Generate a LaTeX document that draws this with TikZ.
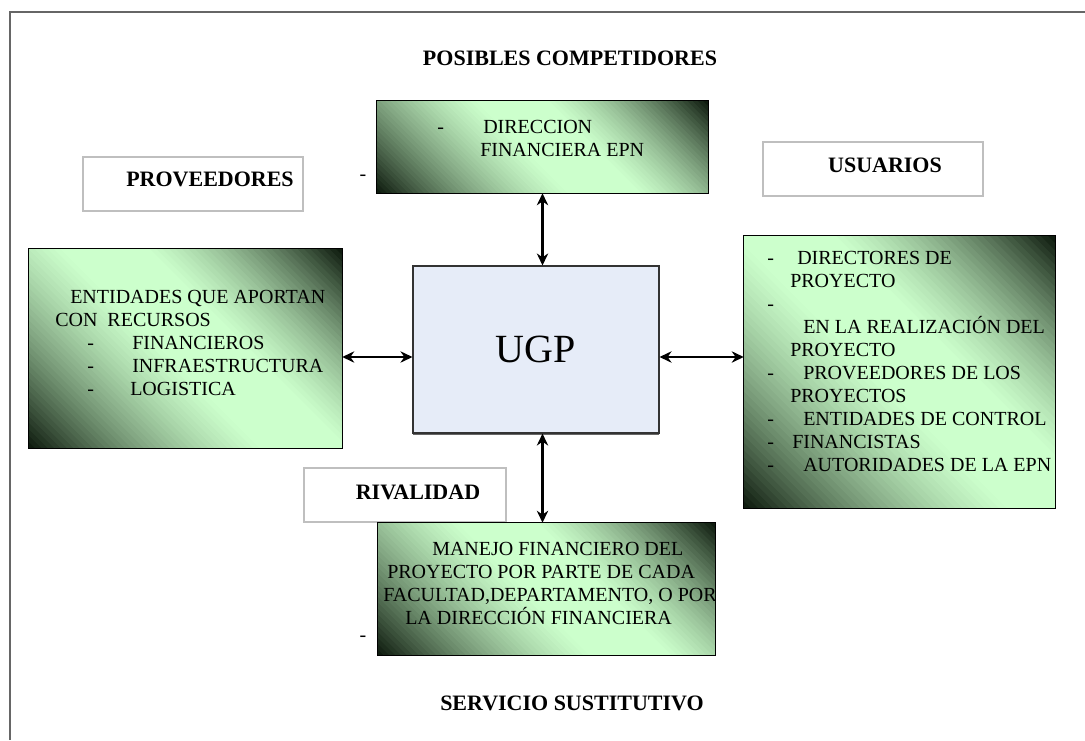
\documentclass[tikz,border=0pt]{standalone}
\usepackage{fontspec}
\setmainfont{Liberation Serif}
\usetikzlibrary{arrows.meta,shadows}
\definecolor{gdark}{RGB}{10,22,10}
\definecolor{glight}{RGB}{204,255,204}
\definecolor{ugpfill}{RGB}{230,236,248}
% degradado diagonal: oscuro en las esquinas inferior izquierda y superior derecha
\newcommand{\greenshade}[1]{%
    \begin{scope}
        \clip (#1.south west) rectangle (#1.north east);
        \path (#1.south west); \pgfgetlastxy{\bxA}{\byA}
        \path (#1.north east); \pgfgetlastxy{\bxB}{\byB}
        \pgfmathsetmacro{\bW}{\bxB-\bxA}
        \pgfmathsetmacro{\bH}{\byB-\byA}
        \pgfmathsetmacro{\bS}{(\bW+\bH)/80}
        \foreach \k in {0,...,79}{
            \pgfmathsetmacro{\shA}{\bS*\k}
            \pgfmathsetmacro{\shB}{\bS*(\k+1.3)}
            \pgfmathsetmacro{\shT}{(\k+0.5)/80}
            \pgfmathsetmacro{\shE}{max(0,1-\shT/0.45)}
            \pgfmathsetmacro{\shF}{max(0,1-(1-\shT)/0.38)}
            \pgfmathsetmacro{\shD}{min(1,\shE*(0.55+0.45*\shE)+\shF*(0.55+0.45*\shF))}
            \pgfmathsetmacro{\shP}{100*(1-\shD)}
            \fill[glight!\shP!gdark] (\bxA+\shA pt,\byA) -- (\bxA+\shB pt,\byA)
                -- (\bxA+\shB pt-\bH pt,\byB) -- (\bxA+\shA pt-\bH pt,\byB) -- cycle;
        }
    \end{scope}
    \draw[line width=0.8pt] (#1.south west) rectangle (#1.north east);}
\begin{document}
\begin{tikzpicture}[x=0.75pt,y=-0.75pt,
    greenbox/.style={inner sep=0pt},
    boxtext/.style={anchor=north west, inner sep=0pt, align=left, font=\fontsize{15}{17.25}\selectfont},
    lblbox/.style={draw=black!25, line width=1.1pt, fill=white, minimum width=165pt, minimum height=40.5pt, inner sep=0pt},
    lbltext/.style={inner sep=0pt, font=\fontsize{16.5}{19}\selectfont\bfseries},
    arr/.style={{Stealth[length=9pt,width=8.5pt]}-{Stealth[length=9pt,width=8.5pt]}, line width=2pt}]
    \useasboundingbox (0,0) rectangle (1085,740);
    \draw[black!60, line width=0.8pt] (10,740) -- (10,12) -- (1085,12);
    % Titulos
    \node[lbltext] (poscomp) at (570,58) {POSIBLES COMPETIDORES};
    \node[lbltext] (servsust) at (572,703) {SERVICIO SUSTITUTIVO};
    % Etiquetas
    \node[lblbox] (prov) at (193,184) {};
    \node[lbltext] (provt) at (210,179) {PROVEEDORES};
    \node[lblbox] (usu) at (873,169) {};
    \node[lbltext] (usut) at (885,165) {USUARIOS};
    \node[lblbox, minimum width=151.5pt] (riv) at (405,495) {};
    \node[lbltext] (rivt) at (418,492) {RIVALIDAD};
    % Cajas verdes
    \node[greenbox, minimum width=248.25pt, minimum height=69pt] (dir) at (542.5,147) {};
    \greenshade{dir}
    \node[boxtext] (dirt) at (437,119.5) {\makebox[34.5pt][l]{-}DIRECCION\\
        \hspace*{32.25pt}FINANCIERA EPN};
    \node[greenbox, minimum width=234.75pt, minimum height=149.25pt] (prv) at (185.5,348.5) {};
    \greenshade{prv}
    \node[boxtext] (prvt) at (55,289.5) {\hspace*{11.25pt}ENTIDADES QUE APORTAN\\
        CON\ \ RECURSOS\\
        \hspace*{24pt}\makebox[33.75pt][l]{-}FINANCIEROS\\
        \hspace*{24pt}\makebox[33.75pt][l]{-}INFRAESTRUCTURA\\
        \hspace*{24pt}\makebox[32.25pt][l]{-}LOGISTICA};
    \node[greenbox, minimum width=233.25pt, minimum height=204pt] (rgt) at (899.5,372) {};
    \greenshade{rgt}
    \node[boxtext] (rgtt) at (767,250.5) {\makebox[22.5pt][l]{-}DIRECTORES DE\\
        \hspace*{17.25pt}PROYECTO\\
        -\\
        \hspace*{27pt}EN LA REALIZACIÓN DEL\\
        \hspace*{17.25pt}PROYECTO\\
        \makebox[27pt][l]{-}PROVEEDORES DE LOS\\
        \hspace*{17.25pt}PROYECTOS\\
        \makebox[27pt][l]{-}ENTIDADES DE CONTROL\\
        \makebox[18.75pt][l]{-}FINANCISTAS\\
        \makebox[27pt][l]{-}AUTORIDADES DE LA EPN};
    \node[greenbox, minimum width=252.75pt, minimum height=99pt] (mfin) at (546.5,589) {};
    \greenshade{mfin}
    \begin{scope}
        \clip (mfin.south west) rectangle (mfin.north east);
        \node[boxtext] (mfint) at (383,541.5) {\hspace*{36.75pt}MANEJO FINANCIERO DEL\\
            \hspace*{3pt}PROYECTO POR PARTE DE CADA\\
            FACULTAD,DEPARTAMENTO, O POR\\
            \hspace*{16.5pt}LA DIRECCIÓN FINANCIERA};
    \end{scope}
    % Guiones sueltos
    \node[boxtext, anchor=center] (dsha) at (363,178) {-};
    \node[boxtext, anchor=center] (dshb) at (363,639) {-};
    % Centro
    \node[draw=black!80, line width=0.8pt, fill=ugpfill,
        general shadow={fill=black!60, shadow yshift=-1.5pt, shadow xshift=0.3pt},
        minimum width=184.5pt, minimum height=125.25pt, inner sep=0pt,
        font=\fontsize{30}{36}\selectfont] (ugp) at (536,349.5) {UGP};
    % Flechas
    \coordinate (hmid) at (543,357);
    \draw[arr] (dir.south) -- (dir.south |- ugp.north);
    \draw[arr] (dir.south |- ugp.south) -- (dir.south |- mfin.north);
    \draw[arr] (prv.east |- hmid) -- (ugp.west |- hmid);
    \draw[arr] (ugp.east |- hmid) -- (rgt.west |- hmid);
\end{tikzpicture}
\end{document}
